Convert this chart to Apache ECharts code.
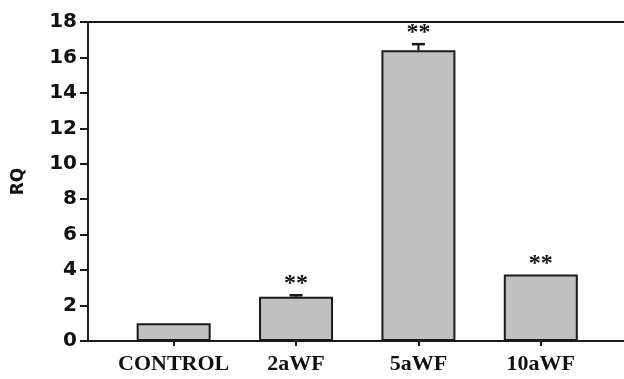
<!DOCTYPE html>
<html>
<head>
<meta charset="utf-8">
<script src="https://cdn.jsdelivr.net/npm/echarts@6/dist/echarts.min.js"></script>
<style>
  html, body { margin: 0; padding: 0; background: #fff; }
  #chart { width: 624px; height: 379px; }
</style>
</head>
<body>
<div id="chart"></div>
<script>
// Relative quantification per treatment group
const categories = ['CONTROL', '2aWF', '5aWF', '10aWF'];
const rqValues = [1.0, 2.5, 16.4, 3.75];
const rqErrors = [0, 0.08, 0.35, 0];
const significance = ['', '**', '**', '**'];
const yTicks = [0, 2, 4, 6, 8, 10, 12, 14, 16, 18];

const positions = categories.map((_, i) => i);
const barData = positions.map((p, i) => [p, rqValues[i]]);
const errData = positions.map((p, i) => [p, rqValues[i], rqErrors[i], i]);

const chart = echarts.init(document.getElementById('chart'));

const AXIS_COLOR = '#1a1a1a';
const X_MIN = -0.7;
const X_MAX = 3.68;

chart.setOption({
  animation: false,
  backgroundColor: '#ffffff',
  grid: { left: 88, right: 0, top: 22, bottom: 38 },
  xAxis: [
    {
      type: 'value',
      min: X_MIN,
      max: X_MAX,
      position: 'bottom',
      splitLine: { show: false },
      axisLine: { show: true, onZero: false, lineStyle: { color: AXIS_COLOR, width: 2 } },
      axisTick: { show: true, customValues: positions, length: 5, lineStyle: { color: AXIS_COLOR, width: 2 } },
      axisLabel: {
        customValues: positions,
        formatter: v => categories[Math.round(v)] || '',
        margin: 12,
        color: '#111',
        fontFamily: '"Liberation Serif", "DejaVu Serif", serif',
        fontWeight: 'bold',
        fontSize: 22
      }
    },
    {
      type: 'value',
      min: X_MIN,
      max: X_MAX,
      position: 'top',
      splitLine: { show: false },
      axisLine: { show: true, onZero: false, lineStyle: { color: AXIS_COLOR, width: 2 } },
      axisTick: { show: false },
      axisLabel: { show: false }
    }
  ],
  yAxis: {
    type: 'value',
    min: 0,
    max: 18,
    interval: 2,
    name: 'RQ',
    nameLocation: 'middle',
    nameGap: 61,
    nameRotate: 90,
    nameTextStyle: {
      color: '#111',
      fontFamily: '"DejaVu Sans", sans-serif',
      fontWeight: 'bold',
      fontSize: 17
    },
    splitLine: { show: false },
    axisLine: { show: true, onZero: false, lineStyle: { color: AXIS_COLOR, width: 2 } },
    axisTick: { show: true, length: 8, lineStyle: { color: AXIS_COLOR, width: 2 } },
    axisLabel: {
      customValues: yTicks,
      margin: 11,
      color: '#111',
      fontFamily: '"DejaVu Sans", sans-serif',
      fontWeight: 'bold',
      fontSize: 20
    }
  },
  series: [
    {
      type: 'bar',
      xAxisIndex: 0,
      barWidth: 74,
      data: barData,
      itemStyle: { color: '#c0c0c0', borderColor: '#1a1a1a', borderWidth: 2 }
    },
    {
      type: 'custom',
      xAxisIndex: 0,
      z: 5,
      data: errData,
      renderItem: function (params, api) {
        const x = api.value(0);
        const v = api.value(1);
        const e = api.value(2);
        const idx = api.value(3);
        const base = api.coord([x, v]);
        const top = api.coord([x, v + e]);
        const children = [];
        if (e > 0) {
          children.push({
            type: 'line',
            shape: { x1: base[0], y1: base[1], x2: top[0], y2: top[1] },
            style: { stroke: '#1a1a1a', lineWidth: 2 }
          });
          children.push({
            type: 'line',
            shape: { x1: top[0] - 6.5, y1: top[1], x2: top[0] + 6.5, y2: top[1] },
            style: { stroke: '#1a1a1a', lineWidth: 2.5 }
          });
        }
        if (significance[idx]) {
          children.push({
            type: 'text',
            style: {
              text: significance[idx],
              x: top[0],
              y: top[1] - 11,
              align: 'center',
              verticalAlign: 'middle',
              fill: '#111',
              fontFamily: '"Liberation Serif", serif',
              fontWeight: 'bold',
              fontSize: 24
            }
          });
        }
        return { type: 'group', children: children };
      }
    }
  ]
});
</script>
</body>
</html>
